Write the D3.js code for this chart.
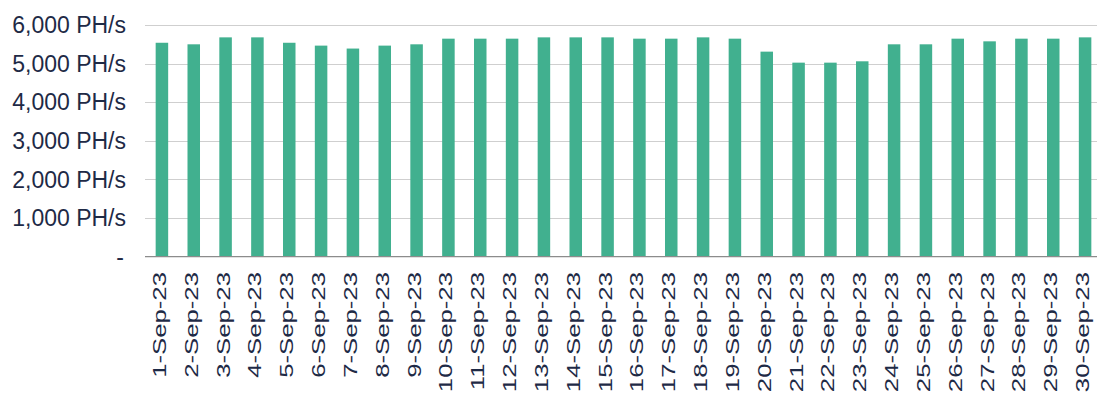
<!DOCTYPE html>
<html>
<head>
<meta charset="utf-8">
<script src="https://cdn.jsdelivr.net/npm/d3@7"></script>
<style>
  html, body { margin: 0; padding: 0; background: #fff; }
  svg { display: block; font-family: "Liberation Sans", Arial, sans-serif; }
</style>
</head>
<body>
<div id="chart"></div>
<script>
// daily hashrate, Sep 2023
const days = ['1-Sep-23','2-Sep-23','3-Sep-23','4-Sep-23','5-Sep-23','6-Sep-23','7-Sep-23','8-Sep-23','9-Sep-23','10-Sep-23',
  '11-Sep-23','12-Sep-23','13-Sep-23','14-Sep-23','15-Sep-23','16-Sep-23','17-Sep-23','18-Sep-23','19-Sep-23','20-Sep-23',
  '21-Sep-23','22-Sep-23','23-Sep-23','24-Sep-23','25-Sep-23','26-Sep-23','27-Sep-23','28-Sep-23','29-Sep-23','30-Sep-23'];
const hashrate = [5540, 5500, 5680, 5680, 5540, 5466, 5390, 5466, 5500, 5646,
  5646, 5646, 5680, 5680, 5680, 5646, 5646, 5680, 5646, 5310,
  5025, 5025, 5060, 5500, 5500, 5646, 5577, 5646, 5646, 5680];
const yTicks = [0, 1000, 2000, 3000, 4000, 5000, 6000];

const width = 1097, height = 394;
const barColor = '#41b08f';
const textColor = '#1e2a46';

const svg = d3.select('#chart').append('svg')
  .attr('width', width).attr('height', height);

const x = d3.scaleBand()
  .domain(days)
  .range([146, 1101])
  .paddingInner(0.607)
  .paddingOuter(0.3035);

const y = d3.scaleLinear().domain([0, 6000]).range([256.7, 25]);

const fmt = d3.format(',');

// gridlines
svg.append('g').selectAll('line')
  .data(yTicks.filter(d => d > 0))
  .enter().append('line')
  .attr('x1', 145).attr('x2', width)
  .attr('y1', d => Math.round(y(d)) + 0.5).attr('y2', d => Math.round(y(d)) + 0.5)
  .attr('stroke', '#cfcfcf').attr('stroke-width', 1.2);

// y labels
svg.append('g').selectAll('text')
  .data(yTicks)
  .enter().append('text')
  .attr('x', d => d === 0 ? 124 : 126)
  .attr('y', d => y(d))
  .attr('dy', '0.35em')
  .attr('text-anchor', 'end')
  .style('font-size', '23px')
  .style('fill', textColor)
  .text(d => d === 0 ? '-' : fmt(d) + ' PH/s');

// bars
svg.append('g').selectAll('rect')
  .data(hashrate)
  .enter().append('rect')
  .attr('x', (d, i) => x(days[i]))
  .attr('width', x.bandwidth())
  .attr('y', d => y(d))
  .attr('height', d => y(0) - y(d))
  .attr('fill', barColor);

// baseline
svg.append('line')
  .attr('x1', 145).attr('x2', width)
  .attr('y1', y(0)).attr('y2', y(0))
  .attr('stroke', '#8c8c8c').attr('stroke-width', 1.3);

// x labels (rotated, stretched along the text like the original)
svg.append('g').selectAll('text')
  .data(days)
  .enter().append('text')
  .attr('transform', d => `translate(${x(d) + x.bandwidth() / 2 + 4},272) rotate(-90) scale(1.47,1)`)
  .attr('text-anchor', 'end')
  .style('font-size', '17.5px')
  .style('fill', textColor)
  .text(d => d);
</script>
</body>
</html>
